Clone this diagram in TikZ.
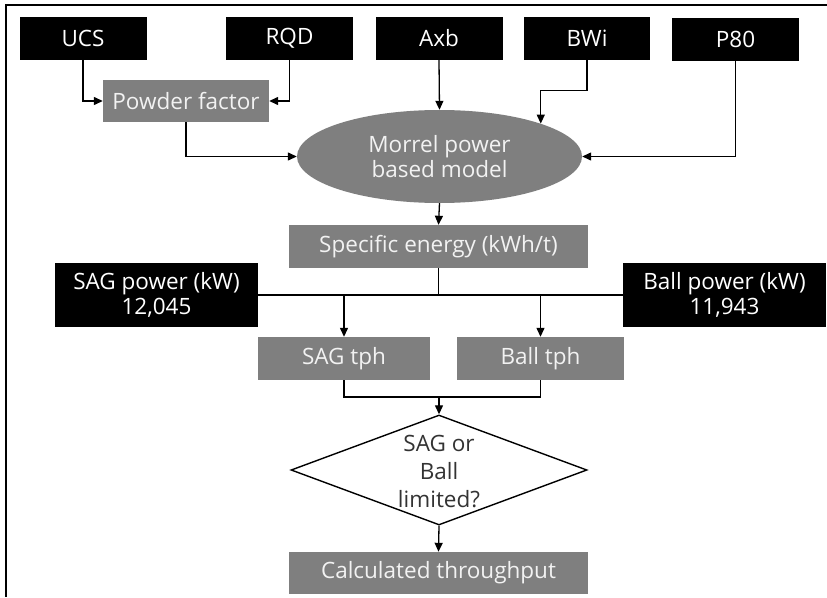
\documentclass[tikz,border=0pt]{standalone}
\usepackage{fontspec}
\setmainfont{Open Sans}
\usetikzlibrary{shapes.geometric,arrows.meta}
\definecolor{boxgray}{HTML}{7F7F7F}
\definecolor{txtlight}{HTML}{F2F2F2}
\definecolor{txtdark}{HTML}{333333}
\tikzset{
  lbl/.style={font=\fontsize{22.5}{25}\selectfont, align=center, inner sep=0pt},
  blk/.style={lbl, fill=black, text=white},
  gry/.style={lbl, fill=boxgray, text=txtlight},
  arr/.style={-{Triangle[length=9pt,width=8pt]}, line width=1.3pt},
  ln/.style={line width=1.3pt},
  frameln/.style={line width=1.8pt}
}
\begin{document}
\begin{tikzpicture}[x=1pt,y=-1pt]
\useasboundingbox (0,0) rectangle (827,597);
\fill[white] (0,0) rectangle (827,597);
\coordinate (ftl) at (6,5);
\coordinate (ftr) at (827,5);
\coordinate (fbl) at (6,597);
\draw[frameln] (ftr) -- (ftl) -- (fbl);

% top inputs
\node[blk, minimum width=127pt, minimum height=43pt] (ucs) at (83,38.5) {UCS};
\node[blk, minimum width=127pt, minimum height=43pt] (rqd) at (289.5,38.5) {RQD};
\node[blk, minimum width=127pt, minimum height=43pt] (axb) at (439,38.5) {Axb};
\node[blk, minimum width=126pt, minimum height=43pt] (bwi) at (587,38.5) {BWi};
\node[blk, minimum width=127pt, minimum height=43pt] (p80) at (735.5,39.5) {P80};

\node[gry, minimum width=166pt, minimum height=42pt] (pf) at (186,101) {Powder factor};
\node[gry, ellipse, minimum width=285pt, minimum height=93pt] (ell) at (439.5,156.5) {Morrel power\\based model};
\node[gry, minimum width=299pt, minimum height=43pt] (se) at (438.5,246.5) {Specific energy (kWh/t)};
\node[blk, minimum width=203pt, minimum height=64pt] (sag) at (156.5,295) {SAG power (kW)\\12,045};
\node[blk, minimum width=203pt, minimum height=64pt] (ball) at (724.5,295) {Ball power (kW)\\11,943};
\node[gry, minimum width=172pt, minimum height=43pt] (sagt) at (344,358.5) {SAG tph};
\node[gry, minimum width=167pt, minimum height=43pt] (ballt) at (540.5,358.5) {Ball tph};
\node[draw=black, line width=1.4pt, diamond, minimum width=296pt, minimum height=110pt, inner sep=0pt, shape aspect=2.7] (dia) at (439,470) {};
\node[lbl, text=txtdark, font=\fontsize{22.5}{28}\selectfont] (diat) at (439,472) {SAG or\\Ball\\limited?};
\node[gry, minimum width=299pt, minimum height=42pt] (ct) at (438.5,573) {Calculated throughput};

% connectors
\draw[arr] (ucs.south) |- (pf.west);
\draw[arr] (rqd.south) |- (pf.east);
\draw[arr] (pf.south) |- (ell.west);
\draw[arr] (axb.south) -- (ell.north);
\draw[arr] (bwi.south) -- ++(0,30) -| (ell.18);
\draw[arr] (p80.south) |- (ell.east);
\draw[arr] (ell.south) -- (se.north);
\draw[ln] (sag.east) -- (ball.west);
\draw[ln] (se.south) -- (se.south |- sag.east);
\draw[arr] (sagt.north |- sag.east) -- (sagt.north);
\draw[arr] (ballt.north |- ball.west) -- (ballt.north);
\coordinate (mj) at (439,397);
\draw[ln] (sagt.south) |- (mj) -| (ballt.south);
\draw[arr] (mj) -- (dia.north);
\draw[arr] (dia.south) -- (ct.north);
\end{tikzpicture}
\end{document}
